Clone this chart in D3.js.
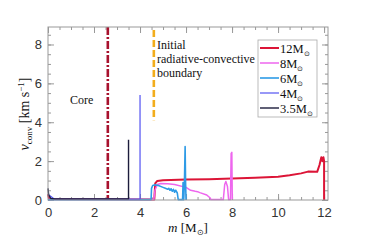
<!DOCTYPE html>
<html>
<head>
<meta charset="utf-8">
<script src="https://cdn.jsdelivr.net/npm/d3@7"></script>
<style>
	body { margin: 0; background: #fff; }
	svg { display: block; }
</style>
</head>
<body>
<div id="chart"></div>
<script>
// series: [mass coordinate, convective velocity]
var m12 = [[0,0.3],[0.05,0.05],[4.62,0.03],[4.66,0.85],[4.75,0.98],[5,1.02],[6,1.05],[7,1.07],[8,1.1],[9,1.14],[10,1.2],[10.5,1.27],[11,1.37],[11.3,1.46],[11.7,1.45],[11.8,1.8],[11.88,2.2],[11.93,2.0],[11.97,2.2],[12.0,2.0],[12.0,0]];
var m8 = [[0,0.02],[4.6,0.02],[4.65,0.5],[4.75,0.8],[4.9,0.85],[5.2,0.84],[5.5,0.8],[6.0,0.65],[6.2,0.5],[6.4,0.45],[6.5,0.43],[6.6,0.38],[6.9,0.26],[7.05,0.1],[7.08,0.02],[7.62,0.02],[7.68,0.8],[7.73,0.95],[7.8,0.7],[7.85,0.02],[7.93,0.02],[7.96,2.4],[7.99,2.45],[8.01,0.02]];
var m6 = [[0,0.02],[4.48,0.02],[4.5,0.6],[4.55,0.75],[4.65,0.78],[4.8,0.75],[5.0,0.65],[5.1,0.6],[5.2,0.55],[5.25,0.6],[5.3,0.5],[5.35,0.58],[5.4,0.45],[5.45,0.55],[5.5,0.4],[5.55,0.5],[5.62,0.36],[5.66,0.02],[5.85,0.02],[5.87,0.9],[5.9,0.02],[5.93,0.9],[5.96,2.75],[5.98,0.9],[6.0,0.0]];
var m4 = [[0,0.3],[0.3,0.03],[4,0.03],[4,5.4]];
var m35 = [[0,0.6],[0.03,0.25],[0.12,0.08],[0.3,0.05],[3.5,0.05],[3.5,3.1]];

var seriesNames = ["12", "8", "6", "4", "3.5"];
var seriesColors = ["#dc1537", "#ee66ee", "#2e9be6", "#5252f2", "#1c1c3c"];
var seriesWidths = [2, 1.5, 1.6, 1.2, 1.4];

var xTicks = [0, 2, 4, 6, 8, 10, 12];
var yTicks = [0, 2, 4, 6, 8];

var coreMass = 2.6;
var boundaryMass = 4.6;
var boundaryRange = [4.1, 8.75];

(function()
{
	var W = 374, H = 240;
	var pLeft = 48, pRight = 328, pTop = 27, pBottom = 200;

	var svg = d3.select("#chart").append("svg").attr("width", W).attr("height", H);

	var x = d3.scaleLinear().domain([0, 12.17]).range([pLeft, pRight]);
	var y = d3.scaleLinear().domain([0, 8.9]).range([pBottom, pTop]);

	var xMinor = d3.range(0, 12.2, 0.5);
	var yMinor = d3.range(0, 8.9, 0.5);

	function styleAxis(g)
	{
		g.select(".domain").remove();
		g.selectAll("line").attr("stroke", "#999");
		g.selectAll("text").attr("fill", "#333").attr("font-family", "Liberation Sans, Arial, sans-serif").attr("font-size", "13px");
	}

	// minor ticks on all four sides
	svg.append("g").attr("transform", "translate(0," + pBottom + ")").call(d3.axisBottom(x).tickValues(xMinor).tickSize(-3).tickFormat("")).call(styleAxis);
	svg.append("g").attr("transform", "translate(0," + pTop + ")").call(d3.axisTop(x).tickValues(xMinor).tickSize(-3).tickFormat("")).call(styleAxis);
	svg.append("g").attr("transform", "translate(" + pLeft + ",0)").call(d3.axisLeft(y).tickValues(yMinor).tickSize(-3).tickFormat("")).call(styleAxis);
	svg.append("g").attr("transform", "translate(" + pRight + ",0)").call(d3.axisRight(y).tickValues(yMinor).tickSize(-3).tickFormat("")).call(styleAxis);

	// major ticks
	svg.append("g").attr("transform", "translate(0," + pBottom + ")").call(d3.axisBottom(x).tickValues(xTicks).tickSize(-6).tickPadding(8).tickFormat(d3.format("d"))).call(styleAxis);
	svg.append("g").attr("transform", "translate(0," + pTop + ")").call(d3.axisTop(x).tickValues(xTicks).tickSize(-6).tickFormat("")).call(styleAxis);
	svg.append("g").attr("transform", "translate(" + pLeft + ",0)").call(d3.axisLeft(y).tickValues(yTicks).tickSize(-6).tickPadding(6).tickFormat(d3.format("d"))).call(styleAxis);
	svg.append("g").attr("transform", "translate(" + pRight + ",0)").call(d3.axisRight(y).tickValues(yTicks).tickSize(-6).tickFormat("")).call(styleAxis);

	// vertical markers
	svg.append("line")
		.attr("x1", x(coreMass)).attr("x2", x(coreMass))
		.attr("y1", pTop).attr("y2", pBottom)
		.attr("stroke", "#a8122e").attr("stroke-width", 2.6)
		.attr("stroke-dasharray", "8,2,2,2");

	svg.append("line")
		.attr("x1", x(boundaryMass)).attr("x2", x(boundaryMass))
		.attr("y1", y(boundaryRange[1])).attr("y2", y(boundaryRange[0]))
		.attr("stroke", "#f2ad1c").attr("stroke-width", 2.6)
		.attr("stroke-dasharray", "7,3");

	// profiles, heaviest model at the bottom
	var line = d3.line().x(function(d){ return x(d[0]); }).y(function(d){ return y(d[1]); });
	var allSeries = [m12, m8, m6, m4, m35];

	svg.append("g").selectAll("path.profile").data(allSeries).enter().append("path")
		.classed("profile", 1)
		.attr("d", line)
		.attr("fill", "none")
		.attr("stroke", function(d,i){ return seriesColors[i]; })
		.attr("stroke-width", function(d,i){ return seriesWidths[i]; })
		.attr("stroke-linejoin", "round");

	// frame
	svg.append("rect")
		.attr("x", pLeft).attr("y", pTop)
		.attr("width", pRight - pLeft).attr("height", pBottom - pTop)
		.attr("fill", "none").attr("stroke", "#999").attr("stroke-width", 1);

	// annotations
	var serif = "Liberation Serif, Times New Roman, serif";

	svg.append("text").text("Core")
		.attr("x", 70).attr("y", 104)
		.attr("font-family", serif).attr("font-size", "12px").attr("fill", "#111");

	var note = svg.append("text")
		.attr("font-family", serif).attr("font-size", "12px").attr("fill", "#111");
	["Initial", "radiative-convective", "boundary"].forEach(function(s,i)
	{
		note.append("tspan").attr("x", 157).attr("y", 49 + i * 14).text(s);
	});

	// legend
	var legend = svg.append("g").attr("transform", "translate(258,40)");
	legend.append("rect")
		.attr("width", 59).attr("height", 77)
		.attr("fill", "#fff").attr("stroke", "#aaa").attr("stroke-width", 0.8);

	var entries = legend.selectAll("g.entry").data(seriesNames).enter().append("g").classed("entry", 1)
		.attr("transform", function(d,i){ return "translate(0," + (8 + i * 15) + ")"; });

	entries.append("line")
		.attr("x1", 2).attr("x2", 21)
		.attr("y1", 0).attr("y2", 0)
		.attr("stroke", function(d,i){ return seriesColors[i]; })
		.attr("stroke-width", function(d,i){ return seriesWidths[i]; });

	var entryText = entries.append("text")
		.attr("x", 22).attr("y", 4.5)
		.attr("font-family", serif).attr("font-size", "12.5px").attr("fill", "#111");
	entryText.append("tspan").text(function(d){ return d + "M"; });
	entryText.append("tspan").attr("font-size", "7px").attr("dy", 3).text("\u2299");

	// axis labels
	var xl = svg.append("text")
		.attr("x", 188).attr("y", 232)
		.attr("text-anchor", "middle")
		.attr("font-family", serif).attr("font-size", "13px").attr("fill", "#111");
	xl.append("tspan").attr("font-style", "italic").text("m");
	xl.append("tspan").text(" [M");
	xl.append("tspan").attr("font-size", "8px").attr("dy", 3).text("\u2299");
	xl.append("tspan").attr("dy", -3).text("]");

	var yl = svg.append("text")
		.attr("transform", "translate(29,114) rotate(-90)")
		.attr("text-anchor", "middle")
		.attr("font-family", serif).attr("font-size", "14px").attr("fill", "#111");
	yl.append("tspan").attr("font-style", "italic").text("v");
	yl.append("tspan").attr("font-size", "9px").attr("dy", 3).text("conv");
	yl.append("tspan").attr("dy", -3).text(" [km s");
	yl.append("tspan").attr("font-size", "9px").attr("dy", -5).text("\u22121");
	yl.append("tspan").attr("dy", 5).text("]");
})();
</script>
</body>
</html>
